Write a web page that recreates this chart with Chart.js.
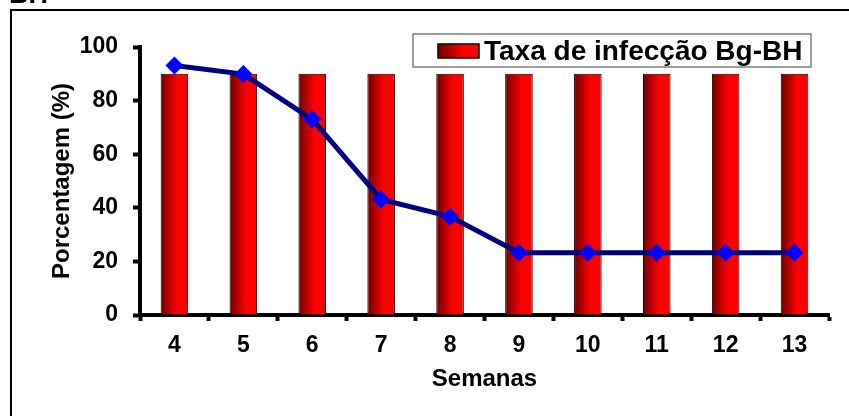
<!DOCTYPE html>
<html lang="pt">
<head>
<meta charset="utf-8">
<title>Taxa de infecção Bg-BH</title>
<script src="https://cdn.jsdelivr.net/npm/chart.js@4.4.0/dist/chart.umd.min.js"></script>
<style>
  html, body { margin: 0; padding: 0; background: #fff; }
  #wrap { width: 849px; height: 416px; }
</style>
</head>
<body>
<div id="wrap"><canvas id="graph" width="849" height="416"></canvas></div>
<script>
// weeks and values
var semanas = ["4", "5", "6", "7", "8", "9", "10", "11", "12", "13"];
var taxaInfeccao = [90, 90, 90, 90, 90, 90, 90, 90, 90, 90];
var porcentagem = [93.1, 89.9, 73, 43.1, 36.7, 23.2, 23.2, 23.2, 23.2, 23.2];
var yTicks = [0, 20, 40, 60, 80, 100];
var legendText = "Taxa de infecção Bg-BH";

var FONT = "'Liberation Sans', Arial, sans-serif";

function redGradient(c, x0, x1) {
  var g = c.createLinearGradient(x0, 0, x1, 0);
  g.addColorStop(0, "#6e0000");
  g.addColorStop(0.6, "#ff0000");
  g.addColorStop(1, "#ff0000");
  return g;
}

// frame, cut-off heading, and the boxed legend
var extras = {
  id: "extras",
  beforeDraw: function(chart) {
    var c = chart.ctx;
    c.save();
    c.fillStyle = "#fff";
    c.fillRect(0, 0, chart.width, chart.height);
    c.strokeStyle = "#000";
    c.lineWidth = 2;
    c.beginPath();
    c.moveTo(11, 500);
    c.lineTo(11, 10);
    c.lineTo(900, 10);
    c.stroke();
    c.fillStyle = "#000";
    c.font = "bold 27px " + FONT;
    c.textBaseline = "alphabetic";
    c.fillText("BH", 9, 3);
    c.restore();
  },
  afterDraw: function(chart) {
    var c = chart.ctx;
    c.save();
    c.fillStyle = "#fff";
    c.fillRect(413, 34, 398, 33);
    c.strokeStyle = "#7f7f7f";
    c.lineWidth = 1.5;
    c.strokeRect(413, 34, 398, 33);
    c.fillStyle = redGradient(c, 438, 479);
    c.fillRect(438, 44, 41, 14);
    c.strokeStyle = "#000";
    c.lineWidth = 1.5;
    c.strokeRect(438, 44, 41, 14);
    c.fillStyle = "#000";
    c.font = "bold 28px " + FONT;
    c.textBaseline = "alphabetic";
    c.fillText(chart.data.datasets[1].label, 484, 60);
    c.restore();
  }
};

var graph = document.getElementById("graph").getContext("2d");
new Chart(graph, {
  type: "bar",
  data: {
    labels: semanas,
    datasets: [
      {
        type: "line",
        label: "Porcentagem",
        data: porcentagem,
        borderColor: "#000080",
        borderWidth: 5,
        pointStyle: "rectRot",
        pointRadius: 9,
        pointBackgroundColor: "#0000ff",
        pointBorderColor: "#0000ff",
        pointBorderWidth: 0,
        tension: 0,
        order: 0
      },
      {
        label: legendText,
        data: taxaInfeccao,
        backgroundColor: function(ctx) {
          var chart = ctx.chart;
          if (!chart.chartArea) return "#ff0000";
          var x = chart.scales.x.getPixelForValue(ctx.dataIndex);
          var w = (chart.chartArea.width / semanas.length) * 0.4;
          return redGradient(chart.ctx, x - w / 2, x + w / 2);
        },
        borderColor: "#000",
        borderWidth: 1,
        categoryPercentage: 1,
        barPercentage: 0.4,
        order: 1
      }
    ]
  },
  options: {
    responsive: false,
    animation: false,
    layout: { padding: { left: 0, top: 47, right: 20, bottom: 0 } },
    plugins: {
      legend: { display: false },
      tooltip: { enabled: false }
    },
    scales: {
      x: {
        offset: true,
        grid: {
          offset: true,
          drawOnChartArea: false,
          drawTicks: true,
          tickLength: 6,
          tickWidth: 4,
          tickColor: "#000"
        },
        border: { display: true, color: "#000", width: 4 },
        ticks: {
          color: "#000",
          font: { family: FONT, size: 23, weight: "bold" },
          padding: 11
        },
        title: {
          display: true,
          text: "Semanas",
          color: "#000",
          font: { family: FONT, size: 24, weight: "bold" },
          padding: { top: 0, bottom: 22 }
        },
        afterFit: function(s) { s.height = 416 - 315; }
      },
      y: {
        min: 0,
        max: 100,
        afterBuildTicks: function(s) {
          s.ticks = yTicks.map(function(v) { return { value: v }; });
        },
        grid: {
          drawOnChartArea: false,
          drawTicks: true,
          tickLength: 7,
          tickWidth: 4,
          tickColor: "#000"
        },
        border: { display: true, color: "#000", width: 4 },
        ticks: {
          color: "#000",
          font: { family: FONT, size: 23, weight: "bold" },
          padding: 15
        },
        title: {
          display: true,
          text: "Porcentagem (%)",
          color: "#000",
          font: { family: FONT, size: 24, weight: "bold" },
          padding: { top: 48, bottom: 0 }
        },
        afterFit: function(s) { s.width = 140; }
      }
    }
  },
  plugins: [extras]
});
</script>
</body>
</html>
